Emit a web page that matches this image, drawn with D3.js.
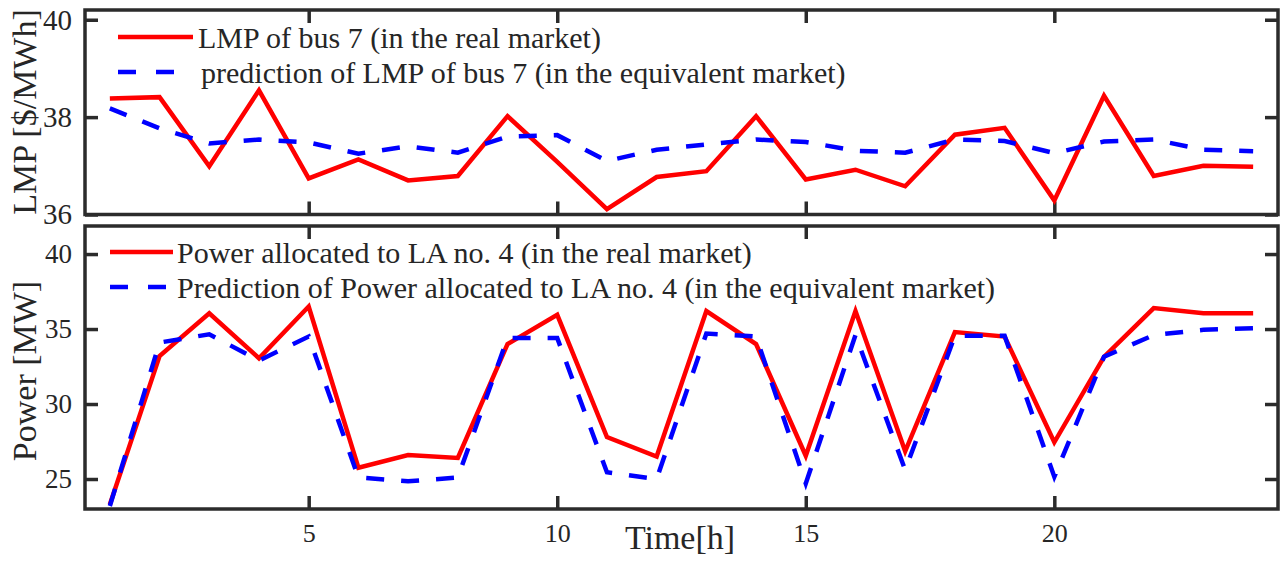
<!DOCTYPE html>
<html>
<head>
<meta charset="utf-8">
<script src="https://cdn.jsdelivr.net/npm/d3@7"></script>
<style>
  html, body { margin: 0; padding: 0; background: #fff; }
  svg { display: block; }
  text { font-family: "Liberation Serif", "Times New Roman", serif; fill: #262626; }
</style>
</head>
<body>
<svg id="chart" width="1285" height="568"></svg>
<script>
// ---- data ----
const hours = [1,2,3,4,5,6,7,8,9,10,11,12,13,14,15,16,17,18,19,20,21,22,23,24];
const lmpReal = [38.38, 38.41, 36.99, 38.55, 36.74, 37.13, 36.70, 36.79, 38.02, 37.08, 36.11, 36.77,
                 36.89, 38.02, 36.72, 36.92, 36.58, 37.64, 37.78, 36.29, 38.44, 36.79, 37.00, 36.98];
const lmpPred = [38.18, 37.77, 37.46, 37.54, 37.48, 37.25, 37.40, 37.27, 37.60, 37.63, 37.10, 37.33,
                 37.44, 37.54, 37.49, 37.31, 37.27, 37.54, 37.51, 37.26, 37.50, 37.54, 37.33, 37.30];
const powReal = [23.3, 33.2, 36.05, 33.05, 36.5, 25.75, 26.6, 26.4, 34.0, 35.95, 27.8, 26.5,
                 36.2, 34.0, 26.55, 36.2, 26.85, 34.8, 34.5, 27.45, 33.15, 36.4, 36.05, 36.05];
const powPred = [23.2, 34.1, 34.65, 32.9, 34.5, 25.1, 24.85, 25.1, 34.4, 34.4, 25.45, 25.0,
                 34.7, 34.5, 24.7, 34.6, 25.6, 34.55, 34.55, 25.15, 33.15, 34.6, 34.95, 35.05];
const xTicks = [5, 10, 15, 20];
const lmpTicks = [36, 38, 40];
const powTicks = [25, 30, 35, 40];
const lmpLegend = ["LMP of bus 7 (in the real market)", "prediction of LMP of bus 7 (in the equivalent market)"];
const powLegend = ["Power allocated to LA no. 4 (in the real market)", "Prediction of Power allocated to LA no. 4 (in the equivalent market)"];
const xLabel = "Time[h]";
const lmpLabel = "LMP [$/MWh]";
const powLabel = "Power [MW]";

// ---- layout ----
const svg = d3.select("#chart");
const X0 = 85, X1 = 1278;
const frameCol = "#2b2b2b";
const red = "#ff0000", blue = "#0000ff";
const dash = "18,17";
const serif = '"Liberation Serif", "Times New Roman", serif';

const x = d3.scaleLinear().domain([0.5, 24.5]).range([X0, X1]);

const panels = [
  { top: 10, bottom: 214.5, domain: [36, 40.2], ticks: lmpTicks, real: lmpReal, pred: lmpPred,
    legend: lmpLegend, label: lmpLabel, labelY: 112, tickFont: 29, legFont: 30,
    legX: 118, legLen: 75, legY: [37, 72], legTextX: 198, showX: false },
  { top: 226, bottom: 509, domain: [23, 41.87], ticks: powTicks, real: powReal, pred: powPred,
    legend: powLegend, label: powLabel, labelY: 371, tickFont: 27, legFont: 30,
    legX: 110, legLen: 63, legY: [252, 287], legTextX: 177, showX: true }
];

panels.forEach((p, i) => {
  const y = d3.scaleLinear().domain(p.domain).range([p.bottom, p.top]);
  const g = svg.append("g");

  const clipId = "clip" + i;
  svg.append("clipPath").attr("id", clipId).append("rect")
    .attr("x", X0).attr("y", p.top).attr("width", X1 - X0).attr("height", p.bottom - p.top);

  g.append("rect").attr("x", X0).attr("y", p.top).attr("width", X1 - X0).attr("height", p.bottom - p.top)
    .attr("fill", "#fff");

  // axes with inward ticks
  const axB = g.append("g").attr("transform", `translate(0,${p.bottom})`)
    .call(d3.axisBottom(x).tickValues(xTicks).tickSize(-13).tickPadding(p.showX ? 15 : 0)
      .tickFormat(p.showX ? d3.format("d") : () => ""));
  const axT = g.append("g").attr("transform", `translate(0,${p.top})`)
    .call(d3.axisTop(x).tickValues(xTicks).tickSize(-13).tickFormat(() => ""));
  const axL = g.append("g").attr("transform", `translate(${X0},0)`)
    .call(d3.axisLeft(y).tickValues(p.ticks).tickSize(-13).tickPadding(13).tickFormat(d3.format("d")));
  const axR = g.append("g").attr("transform", `translate(${X1},0)`)
    .call(d3.axisRight(y).tickValues(p.ticks).tickSize(-13).tickFormat(() => ""));

  [axB, axT, axL, axR].forEach(a => {
    a.attr("font-family", serif);
    a.select(".domain").remove();
    a.selectAll(".tick line").attr("stroke", frameCol).attr("stroke-width", 3.5);
    a.selectAll("text").attr("fill", "#262626").style("font-family", serif);
  });
  axL.attr("font-size", p.tickFont).selectAll("text").style("font-size", p.tickFont + "px");
  axB.attr("font-size", 26).selectAll("text").style("font-size", "26px");

  // lines
  const line = d3.line().x((d, k) => x(hours[k])).y(d => y(d));
  const lg = g.append("g").attr("clip-path", `url(#${clipId})`);
  lg.append("path").datum(p.real).attr("d", line)
    .attr("fill", "none").attr("stroke", red).attr("stroke-width", 4.5).attr("stroke-linejoin", "miter");
  lg.append("path").datum(p.pred).attr("d", line)
    .attr("fill", "none").attr("stroke", blue).attr("stroke-width", 4.5).attr("stroke-dasharray", dash);

  // frame
  g.append("rect").attr("x", X0).attr("y", p.top).attr("width", X1 - X0).attr("height", p.bottom - p.top)
    .attr("fill", "none").attr("stroke", frameCol).attr("stroke-width", 3.5);

  // legend
  const legColors = [red, blue];
  p.legend.forEach((t, k) => {
    const ly = p.legY[k];
    g.append("line").attr("x1", p.legX).attr("x2", p.legX + p.legLen).attr("y1", ly).attr("y2", ly)
      .attr("stroke", legColors[k]).attr("stroke-width", 4.5)
      .attr("stroke-dasharray", k === 1 ? "18,20" : null);
    g.append("text").attr("x", p.legTextX + (k === 1 && i === 0 ? 3 : 0)).attr("y", ly + 11)
      .style("font-size", p.legFont + "px").text(t);
  });

  // y label
  g.append("text").attr("transform", `translate(36,${p.labelY}) rotate(-90)`)
    .attr("text-anchor", "middle").style("font-size", "34px").text(p.label);
});

// x label
svg.append("text").attr("x", 680).attr("y", 549).attr("text-anchor", "middle")
  .style("font-size", "34px").text(xLabel);
</script>
</body>
</html>
